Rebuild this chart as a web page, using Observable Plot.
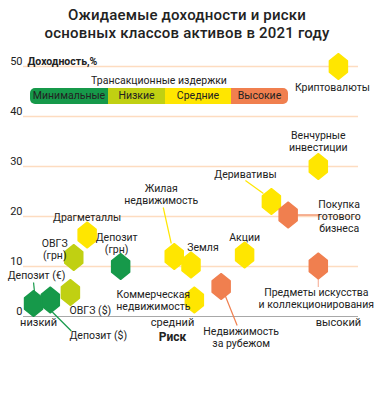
<!DOCTYPE html>
<html><head><meta charset="utf-8">
<script src="https://cdn.jsdelivr.net/npm/d3@7"></script>
<script src="https://cdn.jsdelivr.net/npm/@observablehq/plot@0.6"></script>
<style>
body{margin:0;background:#fff;}
#wrap{position:relative;width:374px;height:403px;font-family:Roboto,sans-serif;color:#222;}
#title{height:50px;box-sizing:border-box;padding-top:6px;text-align:center;font-weight:500;font-size:15px;line-height:18px;letter-spacing:0.2px;}
#legend{position:absolute;left:30px;top:74px;width:258px;font-size:10.5px;}
#legend .cap{text-align:center;height:14px;line-height:14px;}
#legend .bar{display:flex;height:16px;border-radius:5px;overflow:hidden;}
#legend .bar div{text-align:center;line-height:16px;}
</style></head>
<body>
<div id="wrap">
<div id="title">Ожидаемые доходности и риски<br>основных классов активов в 2021 году</div>
<div id="chart"></div>
<div id="legend"></div>
</div>
<script>
// ---- data ----
const assets = ["Криптовалюты","Венчурные инвестиции","Деривативы","Покупка готового бизнеса","Акции","Земля","Жилая недвижимость","Коммерческая недвижимость","Недвижимость за рубежом","Предметы искусства и коллекционирования","Депозит (грн)","ОВГЗ (грн)","Драгметаллы","ОВГЗ ($)","Депозит (€)","Депозит ($)"];
const labels = ["Криптовалюты","Венчурные\nинвестиции","Деривативы","Покупка\nготового\nбизнеса","Акции","Земля","Жилая\nнедвижимость","Коммерческая\nнедвижимость","Недвижимость\nза рубежом","Предметы искусства\nи коллекционирования","Депозит\n(грн)","ОВГЗ\n(грн)","Драгметаллы","ОВГЗ ($)","Депозит (€)","Депозит ($)"];
const risk    = [94, 88, 74, 79, 66, 50, 45, 51, 59, 88, 29, 15, 19, 14, 3, 8];
const returns = [50, 30, 23, 20.3, 12.3, 10.3, 12, 3.3, 6, 10.1, 10, 11.8, 16.3, 4.8, 2.6, 3.3];
const costs   = ["Средние","Средние","Средние","Высокие","Средние","Средние","Средние","Средние","Высокие","Высокие","Минимальные","Низкие","Средние","Низкие","Минимальные","Минимальные"];
const costLevels = ["Минимальные","Низкие","Средние","Высокие"];
const yTicks = [0, 10, 20, 30, 40, 50];
const riskTicks = [4.5, 44.5, 94];
const riskLabels = ["низкий","средний","высокий"];

// ---- layout (pixel offsets of labels/connectors from each point) ----
const labelOffset = [[-6,21],[0,-25],[-26,-27],[51,1],[0,-18],[12,-18],[-13,-62],[-41,0],[20,51],[-2,32],[-4,-23],[-19,-8],[0,-18],[20,18],[3,-28],[48,35]];
const connectors = [
  {i:2, a:[-26,-21], b:[-8,-8]},
  {i:3, a:[9,0], b:[32,0]},
  {i:6, a:[-11,-49], b:[-3,-13]},
  {i:8, a:[4,9], b:[16,39]},
  {i:9, a:[0,12], b:[0,21]},
  {i:14, a:[0,-21], b:[1,-11]},
  {i:15, a:[2,12], b:[21,31]}
];
const palette = ["#16994a","#c0d012","#ffe600","#f07f4f"];
const connColor = {2:"#ffe600",3:"#f07f4f",6:"#ffe600",8:"#f07f4f",9:"#f7b5a0",14:"#16994a",15:"#16994a"};

const W = 374, H = 353, ML = 23, MR = 16, MT = 16, MB = 87;
const kx = (W - ML - MR) / 100, ky = (H - MT - MB) / 50;

const points = assets.map((a, i) => ({asset: a, label: labels[i], risk: risk[i], ret: returns[i], cost: costs[i],
  lx: risk[i] + labelOffset[i][0] / kx, ly: returns[i] - labelOffset[i][1] / ky}));
const links = connectors.map(c => ({
  x1: risk[c.i] + c.a[0] / kx, y1: returns[c.i] - c.a[1] / ky,
  x2: risk[c.i] + c.b[0] / kx, y2: returns[c.i] - c.b[1] / ky, color: connColor[c.i]}));

const hexagon = {draw(ctx) {
  const w = 9, h = 12.8, s = 5.7;
  ctx.moveTo(0, -h); ctx.lineTo(w, -s); ctx.lineTo(w, s); ctx.lineTo(0, h);
  ctx.lineTo(-w, s); ctx.lineTo(-w, -s); ctx.closePath();
}};

const chart = Plot.plot({
  width: W, height: H,
  marginLeft: ML, marginRight: MR, marginTop: MT, marginBottom: MB,
  style: {fontFamily: 'Roboto, sans-serif', fontSize: "10.5px", color: "#222", overflow: "visible"},
  x: {domain: [0, 100], axis: null},
  y: {domain: [0, 50], axis: null},
  color: {domain: costLevels, range: palette},
  marks: [
    Plot.ruleY(yTicks.filter(d => d > 0), {stroke: "#fddcc0", strokeWidth: 1.5}),
    Plot.ruleY([0], {stroke: "#a8a8a8", strokeWidth: 1.2}),
    Plot.axisY({ticks: yTicks, tickSize: 0, tickPadding: 1, dy: -5, fontSize: 11, tickFormat: d => d}),
    Plot.axisX({ticks: riskTicks, tickSize: 0, tickPadding: 2, fontSize: 11, tickFormat: (d, i) => riskLabels[i]}),
    Plot.text(["Риск"], {x: [riskTicks[1]], y: [0], dy: 21, fontWeight: "bold", fontSize: 12}),
    Plot.text(["Доходность,%"], {x: [0], y: [50], dx: 4, dy: -5, textAnchor: "start", fontWeight: "bold", fontSize: 10.5}),
    Plot.link(links, {x1: "x1", y1: "y1", x2: "x2", y2: "y2", stroke: "color", strokeWidth: 1.2}),
    Plot.dot(points, {x: "risk", y: "ret", symbol: hexagon, fill: "cost", stroke: "cost", strokeWidth: 1.5, strokeLinejoin: "round", r: 10}),
    Plot.text(points, {x: "lx", y: "ly", text: "label", fontSize: 10.5, lineHeight: 1.15, fill: "#222"})
  ]
});
document.getElementById("chart").appendChild(chart);

const lg = document.getElementById("legend");
const widths = [78, 57, 66, 57];
lg.innerHTML = '<div class="cap">Трансакционные издержки</div><div class="bar">' +
  costLevels.map((c, i) => `<div style="width:${widths[i]}px;background:${palette[i]}">${c}</div>`).join("") + '</div>';
</script>
</body></html>
